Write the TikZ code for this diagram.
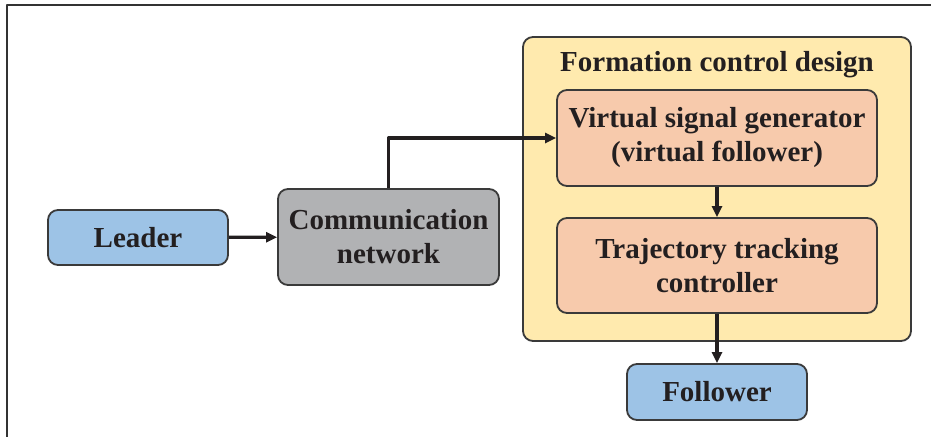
\documentclass[tikz,border=0pt]{standalone}
\usepackage{fontspec}
\setmainfont{Liberation Serif}
\usetikzlibrary{arrows.meta}
\definecolor{azul}{HTML}{9DC3E6}
\definecolor{gris}{HTML}{B1B2B4}
\definecolor{crema}{HTML}{FFEAAE}
\definecolor{salmon}{HTML}{F7CAAC}
\definecolor{borde}{HTML}{3A3A3A}
\definecolor{tinta}{HTML}{231F20}
\begin{document}
\begin{tikzpicture}[x=1pt, y=-1pt, line join=round,
    caja/.style={draw=borde, line width=1.8pt, rounded corners=10pt, align=center,
                 inner sep=0pt, text=tinta, font=\bfseries\fontsize{29}{34}\selectfont},
    flecha/.style={line width=3.2pt, draw=tinta, -{Triangle[length=11pt, width=10pt]}}]
  \useasboundingbox (0,0) rectangle (931,437);
  % el marco, solo arriba y a la izquierda
  \draw[line width=1.6pt, black!80] (931,5) -- (7,5) -- (7,437);
  % el bloque grande de control
  \node[caja, fill=crema, minimum width=388pt, minimum height=304pt] (diseno) at (717,189) {};
  \node[text=tinta, font=\bfseries\fontsize{29}{34}\selectfont] (titulo) at (717,65) {Formation control design};
  \node[caja, fill=salmon, minimum width=320pt, minimum height=96pt] (virtual) at (717,138)
    {Virtual signal generator\\(virtual follower)};
  \node[caja, fill=salmon, minimum width=320pt, minimum height=95pt] (trayect) at (717,265.5)
    {Trajectory tracking\\controller};
  % lider, red y seguidor
  \node[caja, fill=azul, minimum width=180pt, minimum height=55pt] (lider) at (138,237.5) {Leader};
  \node[caja, fill=gris, minimum width=221pt, minimum height=96pt] (red) at (388.5,237)
    {Communication\\network};
  \node[caja, fill=azul, minimum width=180pt, minimum height=56pt] (seguidor) at (717,392) {Follower};
  % las flechas
  \draw[flecha] (lider) -- (red);
  \draw[flecha] (red.north) |- (virtual.west);
  \draw[flecha] (virtual) -- (trayect);
  \draw[flecha] (trayect) -- (seguidor);
\end{tikzpicture}
\end{document}
